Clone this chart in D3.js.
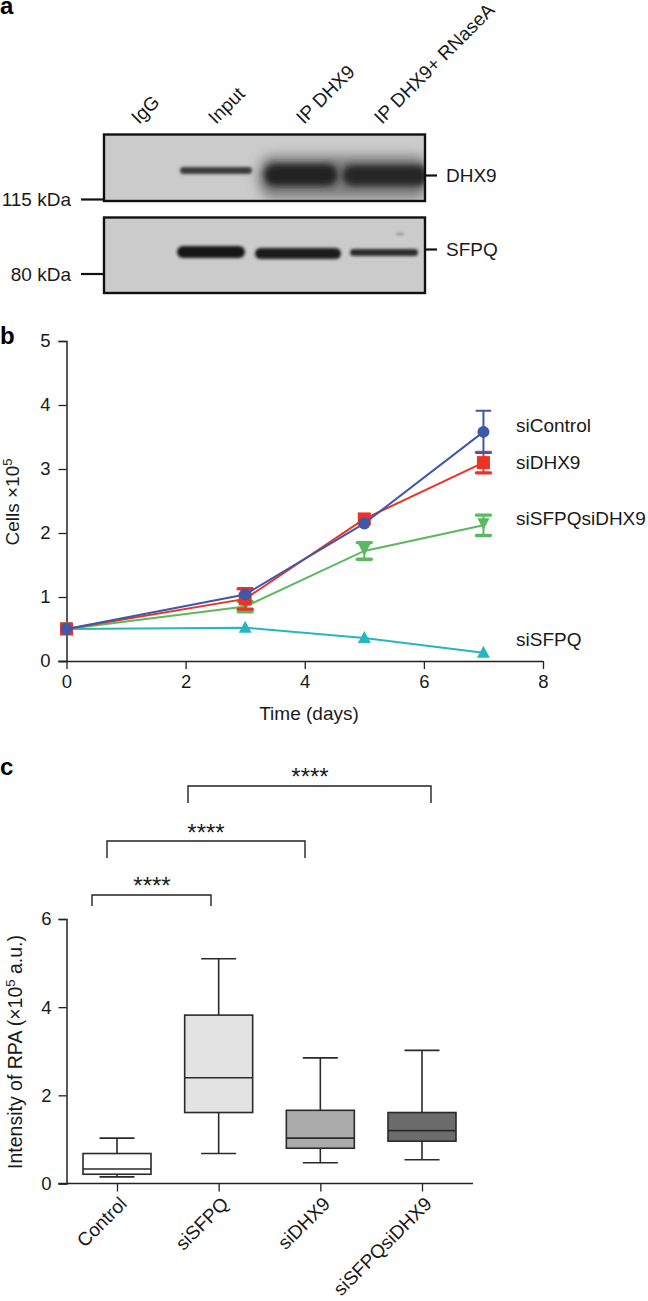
<!DOCTYPE html>
<html><head><meta charset="utf-8">
<script src="https://cdn.jsdelivr.net/npm/d3@7/dist/d3.min.js"></script>
<style>
html,body{margin:0;padding:0;background:#fff}
svg{display:block}
text{font-family:"Liberation Sans",Arial,sans-serif;fill:#1a1a1a}
</style></head><body><svg id="c" width="648" height="1301"></svg>
<script>
// Panel b data
const days=[0,3,5,7];
const xTicksB=[0,2,4,6,8];
const yTicksB=[0,1,2,3,4,5];
const siControl=[0.5,1.04,2.15,3.58];
const siControlErr=[0,0,0,0.33];
const siDHX9=[0.5,0.97,2.22,3.1];
const siDHX9Err=[0,0.16,0,0.16];
const siSFPQsiDHX9=[0.5,0.85,1.72,2.12];
const siSFPQsiDHX9Err=[0,0.08,0.13,0.16];
const siSFPQ=[0.5,0.52,0.36,0.13];
const siSFPQErr=[0,0,0,0];
// Panel c data
const boxCategories=["Control","siSFPQ","siDHX9","siSFPQsiDHX9"];
const boxMin=[0.15,0.68,0.47,0.54];
const boxQ1=[0.21,1.61,0.8,0.96];
const boxMedian=[0.33,2.4,1.03,1.2];
const boxQ3=[0.68,3.82,1.66,1.61];
const boxMax=[1.03,5.1,2.85,3.02];
const yTicksC=[0,2,4,6];
// Panel a labels
const laneLabels=["IgG","Input","IP DHX9","IP DHX9+ RNaseA"];

const svg=d3.select("#c");
const ink="#222";
const FS=19;
const defs=svg.append("defs");
const blur=(id,s)=>defs.append("filter").attr("id",id).attr("x","-30%").attr("y","-100%").attr("width","160%").attr("height","300%")
  .append("feGaussianBlur").attr("stdDeviation",s);
blur("b1",1.4);blur("b2",3);blur("b3",6);
const soft=defs.append("filter").attr("id","soft");
soft.append("feGaussianBlur").attr("stdDeviation",0.35);

const panelLabel=(t,x,y)=>svg.append("text").attr("x",x).attr("y",y).attr("font-size",24).attr("font-weight","bold").style("fill","#000").text(t);
panelLabel("a",0,14);panelLabel("b",0,344);panelLabel("c",0,775);

/* ---------- panel a: blot ---------- */
const lanePos=[129,206,294,372];
laneLabels.forEach((t,i)=>svg.append("text")
  .attr("transform",`translate(${lanePos[i]+10},125) rotate(-45)`)
  .attr("font-size",19).text(t));

function blot(id,y0,y1,bands){
  const x0=104,x1=425;
  const clip=defs.append("clipPath").attr("id",id);
  clip.append("rect").attr("x",x0).attr("y",y0).attr("width",x1-x0).attr("height",y1-y0);
  const g=svg.append("g").attr("clip-path",`url(#${id})`);
  g.append("rect").attr("x",x0).attr("y",y0).attr("width",x1-x0).attr("height",y1-y0).attr("fill","#cbcbcb");
  bands.forEach(b=>g.append("rect").attr("x",b[0]).attr("y",b[1]).attr("width",b[2]).attr("height",b[3])
    .attr("rx",Math.min(b[3]/2,14)).attr("ry",b[3]/2).attr("fill",b[5]).attr("filter",`url(#${b[4]})`));
  svg.append("rect").attr("x",x0).attr("y",y0).attr("width",x1-x0).attr("height",y1-y0).attr("fill","none").attr("stroke","#111").attr("stroke-width",2.4);
}
blot("p1",134.5,201,[
  [180,167,72,7,"b1","#3a3a3a"],
  [258,156,172,42,"b3","#7b7b7b"],
  [264,164,74,22,"b2","#222"],
  [342,165,86,21,"b2","#262626"]
]);
blot("p2",217.5,293,[
  [177,246,68,12,"b1","#171717"],
  [255,248,86,11,"b1","#1c1c1c"],
  [350,249,68,7,"b1","#2a2a2a"],
  [396,233,8,2,"b1","#888"]
]);
const tick=(x1,y1,x2,y2,w)=>svg.append("line").attr("x1",x1).attr("y1",y1).attr("x2",x2).attr("y2",y2).attr("stroke","#111").attr("stroke-width",w||2.2);
tick(81,199.5,104,199.5);tick(81,274,104,274);tick(425,175.5,437,175.5);tick(425,249.5,437,249.5);
const at=(t,x,y,a)=>svg.append("text").attr("x",x).attr("y",y).attr("font-size",FS).attr("text-anchor",a||"start").text(t);
at("115 kDa",71,206,"end");at("80 kDa",71,281,"end");at("DHX9",446,182);at("SFPQ",446,256);

/* ---------- panel b ---------- */
const xB=d3.scaleLinear().domain([0,8]).range([66.5,543]);
const yB=d3.scaleLinear().domain([0,5]).range([661,341]);
function styleAxis(g){
  g.selectAll(".domain").attr("stroke",ink).attr("stroke-width",1.5);
  g.selectAll(".tick line").attr("stroke",ink).attr("stroke-width",1.3);
  g.selectAll("text").attr("font-size",18.5).style("font-family",'"Liberation Sans",Arial,sans-serif').attr("fill","#1a1a1a");
}
svg.append("g").attr("transform","translate(0,661)")
  .call(d3.axisBottom(xB).tickValues(xTicksB).tickSize(8).tickPadding(6).tickFormat(d3.format("d")))
  .call(styleAxis).call(g=>g.select(".domain").attr("d","M58.5,0.5H543"));
svg.append("g").attr("transform","translate(66.5,0)")
  .call(d3.axisLeft(yB).tickValues(yTicksB).tickSize(8).tickPadding(8).tickFormat(d3.format("d")))
  .call(styleAxis);

const series=[
 {name:"siSFPQsiDHX9",v:siSFPQsiDHX9,e:siSFPQsiDHX9Err,c:"#5cb85f",m:"tdown",lab:525},
 {name:"siSFPQ",v:siSFPQ,e:siSFPQErr,c:"#27b6bf",m:"tup",lab:646},
 {name:"siDHX9",v:siDHX9,e:siDHX9Err,c:"#ec3325",m:"sq",lab:469},
 {name:"siControl",v:siControl,e:siControlErr,c:"#3f59a8",m:"circ",lab:432}
];
const line=d3.line().x((d,i)=>xB(days[i])).y(d=>yB(d));
series.forEach(s=>{
  const g=svg.append("g").attr("filter","url(#soft)");
  g.append("path").attr("d",line(s.v)).attr("fill","none").attr("stroke",s.c).attr("stroke-width",2);
  s.v.forEach((v,i)=>{
    const x=xB(days[i]),y=yB(v),e=s.e[i];
    if(e>0){
      const sw=s.m==="circ"?2:3.4;
      g.append("line").attr("x1",x).attr("x2",x).attr("y1",yB(v+e)).attr("y2",yB(v-e)).attr("stroke",s.c).attr("stroke-width",2);
      [v+e,v-e].forEach(k=>g.append("line").attr("x1",x-7).attr("x2",x+7).attr("y1",yB(k)).attr("y2",yB(k)).attr("stroke",s.c).attr("stroke-width",sw).attr("stroke-linecap","round"));
    }
    if(s.m==="circ") g.append("circle").attr("cx",x).attr("cy",y).attr("r",6).attr("fill",s.c);
    if(s.m==="sq") g.append("rect").attr("x",x-6.5).attr("y",y-6.5).attr("width",13).attr("height",13).attr("fill",s.c);
    if(s.m==="tup") g.append("path").attr("d",`M${x},${y-7}L${x+6.5},${y+5}L${x-6.5},${y+5}Z`).attr("fill",s.c);
    if(s.m==="tdown") g.append("path").attr("d",`M${x-6},${y-7}L${x+6},${y-7}L${x},${y+5}Z`).attr("fill",s.c);
  });
  at(s.name,516,s.lab);
});
const sup=(el,a,b,c)=>{
  el.append("tspan").text(a);
  el.append("tspan").attr("dy",-7).attr("font-size",13).text(b);
  if(c) el.append("tspan").attr("dy",7).text(c);
};
sup(svg.append("text").attr("transform","translate(19,502) rotate(-90)").attr("font-size",FS).attr("text-anchor","middle"),"Cells ×10","5");
at("Time (days)",309,720,"middle");

/* ---------- panel c ---------- */
const yC=d3.scaleLinear().domain([0,6]).range([1183.5,919]);
const xC=d3.scalePoint().domain(boxCategories).range([117,422]);
svg.append("g").attr("transform","translate(0,1183.5)")
  .call(d3.axisBottom(xC).tickSize(8).tickFormat(""))
  .call(styleAxis).call(g=>g.select(".domain").attr("d","M58.5,0H473"));
svg.append("g").attr("transform","translate(66.5,0)")
  .call(d3.axisLeft(yC).tickValues(yTicksC).tickSize(8).tickPadding(7).tickFormat(d3.format("d")))
  .call(styleAxis);
const fills=["#ffffff","#e3e3e3","#ababab","#6c6c6c"];
boxCategories.forEach((c,i)=>{
  const x=xC(c),g=svg.append("g").attr("stroke","#2a2a2a").attr("stroke-width",1.6);
  g.append("line").attr("x1",x).attr("x2",x).attr("y1",yC(boxMax[i])).attr("y2",yC(boxMin[i]));
  [boxMax[i],boxMin[i]].forEach(k=>g.append("line").attr("x1",x-17.5).attr("x2",x+17.5).attr("y1",yC(k)).attr("y2",yC(k)));
  g.append("rect").attr("x",x-34).attr("width",68).attr("y",yC(boxQ3[i])).attr("height",yC(boxQ1[i])-yC(boxQ3[i])).attr("fill",fills[i]);
  g.append("line").attr("x1",x-34).attr("x2",x+34).attr("y1",yC(boxMedian[i])).attr("y2",yC(boxMedian[i]));
  svg.append("text").attr("transform",`translate(${x+11},1205) rotate(-45)`).attr("text-anchor","end").attr("font-size",19).text(c);
});
sup(svg.append("text").attr("transform","translate(22,1052) rotate(-90)").attr("font-size",19.5).attr("text-anchor","middle"),"Intensity of RPA (×10","5"," a.u.)");

[[92,211,895,906,152,894],[107,305,841,858,206,841],[188,431,786,803,310,785]].forEach(b=>{
  svg.append("path").attr("d",`M${b[0]},${b[3]}V${b[2]}H${b[1]}V${b[3]}`).attr("fill","none").attr("stroke","#222").attr("stroke-width",1.4);
  svg.append("text").attr("x",b[4]).attr("y",b[5]).attr("text-anchor","middle").attr("font-size",24).text("****");
});
</script></body></html>
